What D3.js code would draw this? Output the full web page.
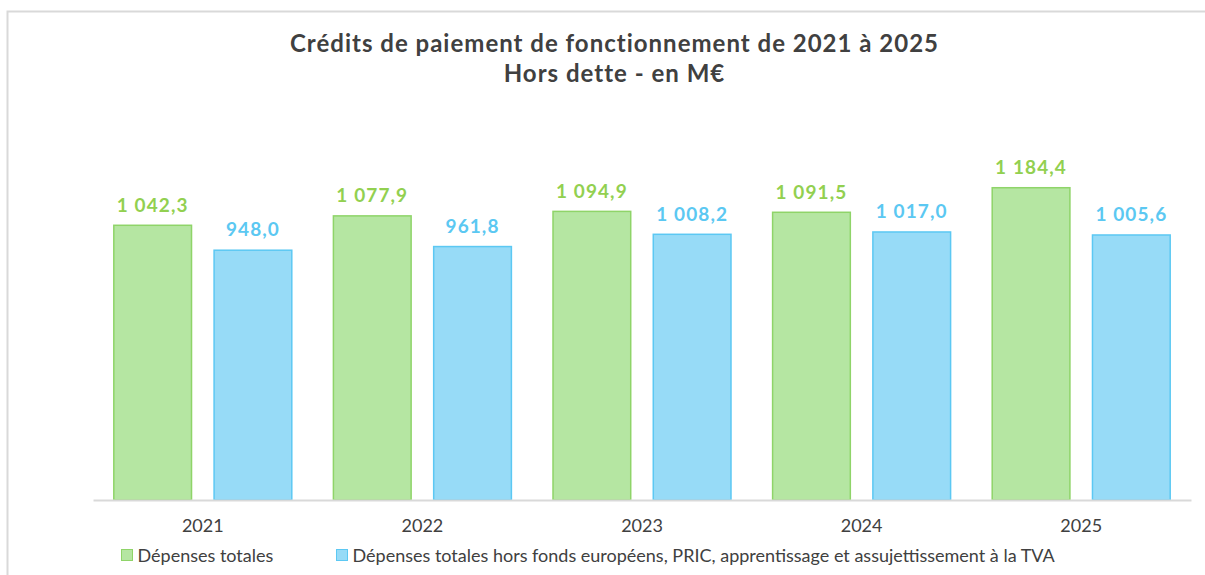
<!DOCTYPE html>
<html>
<head>
<meta charset="utf-8">
<script src="https://cdn.jsdelivr.net/npm/d3@7"></script>
<style>
  html, body { margin: 0; padding: 0; background: #fff; }
  svg { display: block; }
</style>
</head>
<body>
<svg id="chart" width="1205" height="575"></svg>
<script>
const categories = ["2021", "2022", "2023", "2024", "2025"];
const seriesNames = ["Dépenses totales", "Dépenses totales hors fonds européens, PRIC, apprentissage et assujettissement à la TVA"];
const totalValues = [1042.3, 1077.9, 1094.9, 1091.5, 1184.4];
const horsFondsValues = [948.0, 961.8, 1008.2, 1017.0, 1005.6];
const titleLines = ["Crédits de paiement de fonctionnement de 2021 à 2025", "Hors dette - en M€"];

const fills = ["#b5e6a2", "#97dbf7"];
const strokes = ["#8fd469", "#5cc8f3"];
const labelColors = ["#92d050", "#5bc8f2"];

const svg = d3.select("#chart");

// frame
svg.append("path")
  .attr("d", "M7.5,600 V11.5 H1230")
  .attr("fill", "none")
  .attr("stroke", "#d9d9d9")
  .attr("stroke-width", 2);

// title
const title = svg.append("text")
  .attr("text-anchor", "middle")
  .attr("font-family", "Lato, 'Noto Sans', sans-serif")
  .attr("font-weight", 700)
  .attr("font-size", 24)
  .attr("letter-spacing", 1)
  .attr("fill", "#404040");
title.selectAll("tspan").data(titleLines).join("tspan")
  .attr("x", 614.5)
  .attr("y", (d, i) => 52 + i * 30)
  .text(d => d);

const x = d3.scaleBand().domain(categories).range([93, 1191]).paddingInner(0).paddingOuter(0);
const xs = d3.scaleBand().domain([0, 1]).range([0, x.bandwidth()]).paddingInner(0.21).paddingOuter(0.2);
const y = d3.scaleLinear().domain([0, 1400]).range([500, 130]);

const data = categories.map((c, i) => ({ cat: c, vals: [totalValues[i], horsFondsValues[i]] }));

const fmt = v => {
  const s = d3.format(",.1f")(v);
  return s.replace(/,/g, " ").replace(".", ",");
};

const g = svg.append("g");
const groups = g.selectAll("g.cat").data(data).join("g")
  .attr("transform", d => `translate(${x(d.cat)},0)`);

groups.selectAll("rect").data(d => d.vals.map((v, k) => ({ v, k }))).join("rect")
  .attr("x", d => xs(d.k) + 0.75)
  .attr("width", xs.bandwidth() - 1.5)
  .attr("y", d => y(d.v) + 0.75)
  .attr("height", d => y(0) - y(d.v) - 0.75)
  .attr("fill", d => fills[d.k])
  .attr("stroke", d => strokes[d.k])
  .attr("stroke-width", 1.5);

groups.selectAll("text.val").data(d => d.vals.map((v, k) => ({ v, k }))).join("text")
  .attr("class", "val")
  .attr("x", d => xs(d.k) + xs.bandwidth() / 2)
  .attr("y", d => y(d.v) - 13)
  .attr("text-anchor", "middle")
  .attr("font-family", "Lato, 'Noto Sans', sans-serif")
  .attr("font-weight", 700)
  .attr("font-size", 19)
  .attr("letter-spacing", 1.1)
  .attr("fill", d => labelColors[d.k])
  .text(d => fmt(d.v));

// x axis
const xAxis = svg.append("g")
  .attr("transform", `translate(0,${y(0)})`)
  .call(d3.axisBottom(x).tickSize(0).tickPadding(19));
xAxis.select(".domain").attr("stroke", "#d9d9d9").attr("stroke-width", 2);
xAxis.selectAll("text")
  .attr("font-family", "Lato, 'Noto Sans', sans-serif")
  .attr("font-size", 18)
  .attr("fill", "#404040");

// legend
const legendX = [121, 336];
const legend = svg.append("g");
const li = legend.selectAll("g").data(seriesNames).join("g")
  .attr("transform", (d, i) => `translate(${legendX[i]},549)`);
li.append("rect")
  .attr("x", 0.5).attr("y", 0.5)
  .attr("width", 11).attr("height", 11)
  .attr("fill", (d, i) => fills[i])
  .attr("stroke", (d, i) => strokes[i]);
li.append("text")
  .attr("x", 16.5)
  .attr("y", 12.5)
  .attr("font-family", "Lato, 'Noto Sans', sans-serif")
  .attr("font-size", 18)
  .attr("fill", "#404040")
  .text(d => d);
</script>
</body>
</html>
